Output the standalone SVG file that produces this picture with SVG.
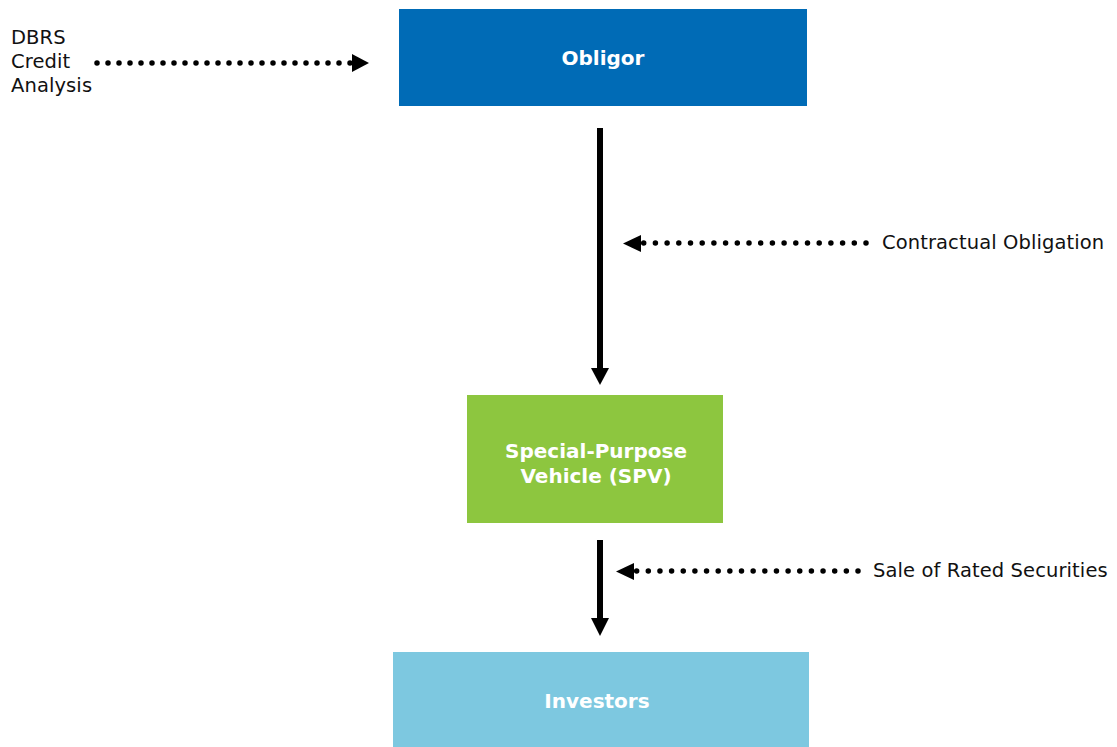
<svg xmlns="http://www.w3.org/2000/svg" width="1117" height="747" viewBox="0 0 1117 747">
<style>
.lbl{font-family:"DejaVu Sans",Verdana,sans-serif;font-size:19.5px;fill:#111;letter-spacing:0.1px}
.nt{font-family:"DejaVu Sans",Verdana,sans-serif;font-size:20px;font-weight:bold;fill:#fff;text-anchor:middle}
.solid{stroke:#000;stroke-width:6;fill:none}
.dots{stroke:#000;stroke-width:5.5;stroke-linecap:round;fill:none}
</style>
<rect width="1117" height="747" fill="#fff"/>
<g id="obligor">
<rect x="399" y="9" width="408" height="97" fill="#006BB6"/>
<text class="nt" x="603" y="65">Obligor</text>
</g>
<g id="spv">
<rect x="467" y="395" width="256" height="128" fill="#8DC63F"/>
<text class="nt" x="596" y="458">Special-Purpose</text>
<text class="nt" x="596" y="483">Vehicle (SPV)</text>
</g>
<g id="investors">
<rect x="393" y="652" width="416" height="95" fill="#7DC8E0"/>
<text class="nt" x="597" y="708">Investors</text>
</g>
<g id="labels">
<text class="lbl" x="11" y="44">DBRS</text>
<text class="lbl" x="11" y="68">Credit</text>
<text class="lbl" x="11" y="92">Analysis</text>
<text class="lbl" x="882" y="249">Contractual Obligation</text>
<text class="lbl" x="873" y="577">Sale of Rated Securities</text>
</g>
<g id="connectors">
<line class="solid" x1="600" y1="128" x2="600" y2="368"/>
<path d="M591,368 L609,368 L600,385 z" fill="#000"/>
<line class="solid" x1="600" y1="540" x2="600" y2="618"/>
<path d="M591,618 L609,618 L600,636 z" fill="#000"/>
<line class="dots" x1="97" y1="63" x2="351" y2="63" stroke-dasharray="0 11"/>
<path d="M352,54 L369,63 L352,72 z" fill="#000"/>
<line class="dots" x1="866" y1="243" x2="643" y2="243" stroke-dasharray="0 11.7"/>
<path d="M641,235 L623,243.5 L641,252 z" fill="#000"/>
<line class="dots" x1="858" y1="571" x2="636" y2="571" stroke-dasharray="0 11.65"/>
<path d="M634,563 L616,571.5 L634,580 z" fill="#000"/>
</g>
</svg>
